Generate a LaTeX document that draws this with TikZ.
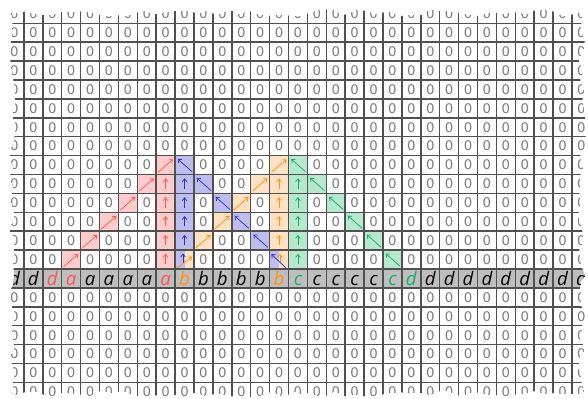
\documentclass[tikz,border=0pt]{standalone}
\usepackage{fontspec}
\setmainfont{Open Sans}
\newfontfamily\zerofont{DejaVu Sans}
\usetikzlibrary{arrows.meta,decorations.pathmorphing}

\definecolor{gridgray}{HTML}{505050}
\definecolor{zerogray}{HTML}{7E7E7E}
\definecolor{rowgray}{HTML}{BEBEBE}
\definecolor{redfill}{HTML}{FFCCCC}
\definecolor{redline}{HTML}{FF5555}
\definecolor{bluefill}{HTML}{BDBDF0}
\definecolor{blueline}{HTML}{2F2FC8}
\definecolor{orangefill}{HTML}{FFE2C4}
\definecolor{orangeline}{HTML}{FF9012}
\definecolor{greenfill}{HTML}{B5E8CD}
\definecolor{greenline}{HTML}{17AE66}

\tikzset{
  zero/.style={text=zerogray, font=\zerofont\fontsize{10}{10}\selectfont, inner sep=0pt},
  symb/.style={anchor=base, inner sep=0pt, font=\fontsize{14}{14}\selectfont\itshape},
  ptr/.style={line width=0.55pt, -{Straight Barb[length=2.2pt,width=3.6pt]}},
}

% cell (c,r): lower left corner at (c,-r-1)
\newcommand{\ptrup}[3]{%
  \fill[#3fill] (#1,-#2-1) rectangle ++(1,1);
  \draw[ptr,#3line] (#1+0.5,-#2-0.75) -- (#1+0.5,-#2-0.2);}
\newcommand{\ptrdiag}[3]{%
  \fill[#3fill] (#1,-#2-1) rectangle ++(1,1);
  \draw[ptr,#3line] (#1+0.1,-#2-0.88) -- (#1+0.88,-#2-0.2);}
\newcommand{\ptrback}[3]{%
  \fill[#3fill] (#1,-#2-1) rectangle ++(1,1);
  \draw[ptr,#3line] (#1+0.9,-#2-0.85) -- (#1+0.14,-#2-0.18);}

\begin{document}
\begin{tikzpicture}[x=0.5cm,y=0.5cm]
\useasboundingbox (-0.265,0.233) rectangle (30.846,-20.877);
\fill[white] (-0.265,0.233) rectangle (30.846,-20.877);
\pgfmathsetseed{11}
\begin{scope}
\clip[decorate,decoration={random steps,segment length=8pt,amplitude=3pt},rounded corners=2.5pt]
  (0.38,-0.45) rectangle (30.52,-20.6);

% zeros
\foreach \r in {0,1,...,7,15,16,...,20}
  \foreach \c in {0,1,...,30}
    \node[zero] (z-\c-\r) at (\c+0.5,-\r-0.5) {0};
\foreach \r/\zcols in {8/{0,1,...,7,10,11,12,13,16,17,...,30},
                       9/{0,1,...,6,11,12,17,18,...,30},
                       10/{0,1,...,5,7,10,13,16,18,19,...,30},
                       11/{0,1,...,4,6,7,10,13,16,17,19,20,...,30},
                       12/{0,1,2,3,5,6,7,11,12,16,17,18,20,21,...,30},
                       13/{0,1,2,4,5,6,7,10,11,12,13,16,17,18,19,21,22,...,30}}
  \foreach \c in \zcols
    \node[zero] (z-\c-\r) at (\c+0.5,-\r-0.5) {0};

% a
\foreach \c/\r in {3/13,4/12,5/11,6/10,7/9,8/8} {\ptrdiag{\c}{\r}{red}}
\foreach \r in {9,...,13} {\ptrup{8}{\r}{red}}
% b, first half
\foreach \c/\r in {9/8,10/9,11/10,12/11,13/12} {\ptrback{\c}{\r}{blue}}
\foreach \r in {9,...,12} {\ptrup{9}{\r}{blue}}
% b, second half
\foreach \c/\r in {10/12,11/11,12/10,13/9,14/8} {\ptrdiag{\c}{\r}{orange}}
\foreach \r in {9,...,12} {\ptrup{14}{\r}{orange}}
% c
\foreach \c/\r in {15/8,16/9,17/10,18/11,19/12,20/13} {\ptrback{\c}{\r}{green}}
\foreach \r in {9,...,13} {\ptrup{15}{\r}{green}}

% shared cells
\fill[bluefill] (9,-14) rectangle (9.5,-13);
\fill[orangefill] (9.5,-14) rectangle (10,-13);
\draw[ptr,blueline] (9.42,-13.7) -- (9.42,-13.18);
\draw[ptr,orangeline] (9.1,-13.95) -- (9.9,-13.35);
\fill[bluefill] (14,-14) rectangle (14.5,-13);
\fill[orangefill] (14.5,-14) rectangle (15,-13);
\draw[ptr,orangeline] (14.55,-13.7) -- (14.55,-13.2);
\draw[ptr,blueline] (14.88,-13.96) -- (14.09,-13.21);

% sequence row
\fill[rowgray] (-1,-15) rectangle (32,-14);
\foreach \c/\l/\k in {0/d/black,1/d/black,2/d/redline,3/a/redline,4/a/black,
    5/a/black,6/a/black,7/a/black,8/a/redline,9/b/orangeline,10/b/black,
    11/b/black,12/b/black,13/b/black,14/b/orangeline,15/c/greenline,
    16/c/black,17/c/black,18/c/black,19/c/black,20/c/greenline,
    21/d/greenline,22/d/black,23/d/black,24/d/black,25/d/black,26/d/black,
    27/d/black,28/d/black,29/d/black,30/d/black}
  \node[symb,text=\k] (s-\c) at (\c+0.5,-14.87) {\l};

\draw[gridgray,line width=1.1pt,step=0.5cm] (-1,-22) grid (32,1);
\end{scope}
\end{tikzpicture}
\end{document}
